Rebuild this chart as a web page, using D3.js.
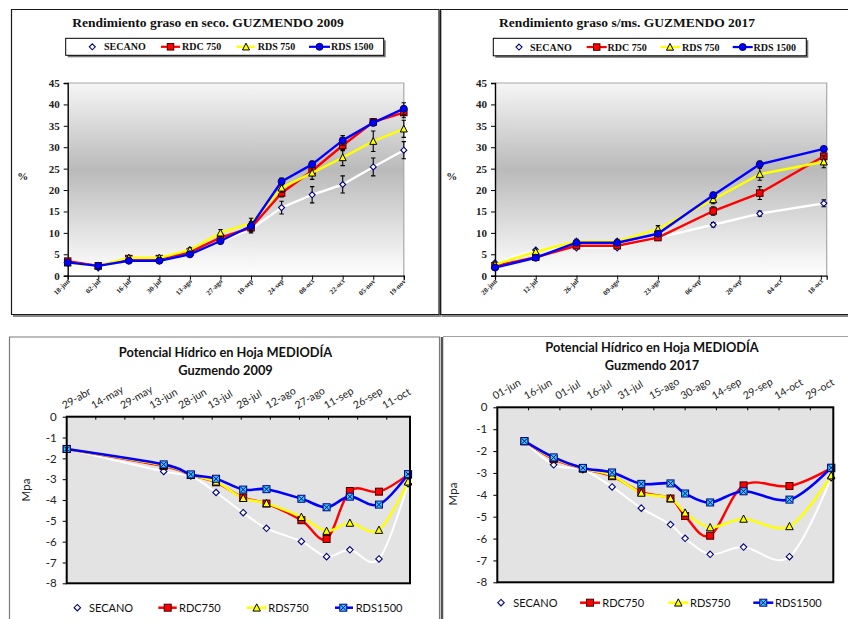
<!DOCTYPE html>
<html><head><meta charset="utf-8">
<script src="https://cdn.jsdelivr.net/npm/d3@7"></script>
<style>body{margin:0;background:#fff;} svg{display:block;}</style>
</head><body>
<svg id="c" width="848" height="619"></svg>
<script>
// ---------- DATA ----------
// Rendimiento graso en seco. GUZMENDO 2009
const gz09Dates = ["2009-06-18","2009-07-02","2009-07-16","2009-07-30","2009-08-13","2009-08-27","2009-09-10","2009-09-24","2009-10-08","2009-10-22","2009-11-05","2009-11-19"];
const gz09TickLabels = ["18-jun","02-jul","16-jul","30-jul","13-ago","27-ago","10-sep","24-sep","08-oct","22-oct","05-nov","19-nov"];
const gz09Secano  = [3.0,1.8,3.5,3.5,5.0,8.0,10.9,15.9,18.9,21.3,25.4,29.3];
const gz09Rdc750  = [3.4,2.3,4.0,4.0,5.5,8.9,11.2,19.3,24.5,30.4,35.9,38.1];
const gz09Rds750  = [3.0,2.3,4.2,4.2,6.0,10.0,12.3,20.5,24.0,27.6,31.4,34.3];
const gz09Rds1500 = [3.1,2.3,3.5,3.5,5.0,8.1,11.6,22.0,26.0,31.6,35.7,39.0];
const gz09SecanoErr  = [0.3,0.3,0.3,0.3,0.3,0.5,0.9,1.5,1.9,2.0,2.1,2.0];
const gz09Rdc750Err  = [0.3,0.3,0.5,0.5,0.4,0.8,0.8,0.9,1.0,1.2,0.8,1.2];
const gz09Rds750Err  = [0.3,0.3,0.4,0.4,0.5,0.8,1.1,1.0,1.5,1.9,2.4,2.0];
const gz09Rds1500Err = [0.3,0.3,0.3,0.3,0.3,0.5,1.0,0.8,0.8,1.1,0.7,1.4];

// Rendimiento graso s/ms. GUZMENDO 2017
const gz17Dates = ["2017-06-28","2017-07-12","2017-07-26","2017-08-09","2017-08-23","2017-09-11","2017-09-27","2017-10-19"];
const gz17TickDates = ["2017-06-28","2017-07-12","2017-07-26","2017-08-09","2017-08-23","2017-09-06","2017-09-20","2017-10-04","2017-10-18"];
const gz17TickLabels = ["28-jun","12-jul","26-jul","09-ago","23-ago","06-sep","20-sep","04-oct","18-oct"];
const gz17Secano  = [3.0,6.0,6.5,6.5,8.9,11.9,14.5,16.9];
const gz17Rdc750  = [2.3,4.3,7.0,7.0,8.9,15.1,19.3,27.9];
const gz17Rds750  = [2.6,5.6,8.0,8.0,10.9,17.8,23.7,26.6];
const gz17Rds1500 = [1.9,4.2,7.7,7.7,9.8,18.8,26.0,29.6];
const gz17SecanoErr  = [0.3,0.3,0.3,0.3,0.3,0.5,0.6,0.8];
const gz17Rdc750Err  = [0.3,0.3,0.4,0.4,0.4,1.0,1.5,1.0];
const gz17Rds750Err  = [0.3,0.4,0.5,0.5,0.8,1.0,1.4,1.4];
const gz17Rds1500Err = [0.3,0.4,0.5,0.5,0.5,0.7,0.8,0.5];

// Potencial Hídrico en Hoja MEDIODÍA (same series, two date sets)
const ph09Dates = ["2009-04-29","2009-06-18","2009-07-02","2009-07-15","2009-07-29","2009-08-10","2009-08-28","2009-09-10","2009-09-22","2009-10-07","2009-10-22"];
const ph09TickLabels = ["29-abr","14-may","29-may","13-jun","28-jun","13-jul","28-jul","12-ago","27-ago","11-sep","26-sep","11-oct"];
const ph17Dates = ["2017-06-14","2017-06-28","2017-07-12","2017-07-26","2017-08-09","2017-08-23","2017-08-30","2017-09-11","2017-09-27","2017-10-19","2017-11-08"];
const ph17TickLabels = ["01-jun","16-jun","01-jul","16-jul","31-jul","15-ago","30-ago","14-sep","29-sep","14-oct","29-oct"];
const phSecano  = [-1.55,-2.63,-2.85,-3.64,-4.61,-5.36,-5.99,-6.72,-6.39,-6.83,-3.22];
const phRdc750  = [-1.55,-2.37,-2.80,-3.15,-3.88,-4.17,-4.97,-5.87,-3.57,-3.60,-2.78];
const phRds750  = [-1.55,-2.33,-2.80,-3.12,-3.91,-4.16,-4.82,-5.49,-5.10,-5.44,-3.12];
const phRds1500 = [-1.55,-2.29,-2.77,-2.98,-3.50,-3.48,-3.94,-4.35,-3.84,-4.22,-2.76];

const topYTicks = [0,5,10,15,20,25,30,35,40,45];
const phYTicks = [0,-1,-2,-3,-4,-5,-6,-7,-8];

// ---------- DRAW ----------
const parse = d3.timeParse("%Y-%m-%d");
const svg = d3.select("#c");
const defs = svg.append("defs");
const grad = defs.append("linearGradient").attr("id","tg").attr("x1",0).attr("y1",0).attr("x2",0).attr("y2",1);
grad.append("stop").attr("offset","0%").attr("stop-color","#f6f6f6");
grad.append("stop").attr("offset","45%").attr("stop-color","#bababa");
grad.append("stop").attr("offset","100%").attr("stop-color","#ffffff");

const SERIF = "'Liberation Serif','DejaVu Serif',serif";
const SANS = "Lato,'Liberation Sans',sans-serif";

function marker(g, type, cx, cy, s) {
  if (type === "diamond") {
    const r = s*0.5;
    g.append("path").attr("d",`M${cx},${cy-r}L${cx+r},${cy}L${cx},${cy+r}L${cx-r},${cy}Z`)
      .attr("fill","#fff").attr("stroke","#000080").attr("stroke-width",1.1);
  } else if (type === "square") {
    g.append("rect").attr("x",cx-s/2).attr("y",cy-s/2).attr("width",s).attr("height",s)
      .attr("fill","#ff0000").attr("stroke","#400000").attr("stroke-width",1);
  } else if (type === "triangle") {
    const h = s*0.9;
    g.append("path").attr("d",`M${cx},${cy-h/2-0.5}L${cx+s/2},${cy+h/2}L${cx-s/2},${cy+h/2}Z`)
      .attr("fill","#ffff00").attr("stroke","#000").attr("stroke-width",1);
  } else if (type === "circle") {
    g.append("circle").attr("cx",cx).attr("cy",cy).attr("r",s/2)
      .attr("fill","#0000ff").attr("stroke","#000060").attr("stroke-width",1);
  } else if (type === "xsquare") {
    g.append("rect").attr("x",cx-s/2).attr("y",cy-s/2).attr("width",s).attr("height",s)
      .attr("fill","#33ccff").attr("stroke","#000080").attr("stroke-width",1);
    const r = s/2-1;
    g.append("path").attr("d",`M${cx-r},${cy-r}L${cx+r},${cy+r}M${cx+r},${cy-r}L${cx-r},${cy+r}`)
      .attr("stroke","#000080").attr("stroke-width",1);
  }
}

function drawTop(cfg) {
  const g = svg.append("g");
  const f = cfg.frame;
  g.append("path").attr("d",f.shadow).attr("fill","none").attr("stroke","#8a8a8a").attr("stroke-width",2);
  g.append("path").attr("d",f.path).attr("fill","none").attr("stroke","#1a1a1a").attr("stroke-width",1.2);
  g.append("text").attr("x",cfg.titleX).attr("y",cfg.titleY).attr("text-anchor","middle")
    .attr("font-family",SERIF).attr("font-weight","bold").attr("font-size",13.5).attr("fill","#111").text(cfg.title);
  const L = cfg.legend;
  g.append("rect").attr("x",L.x+2).attr("y",L.y+2).attr("width",L.w).attr("height",L.h).attr("fill","#777");
  g.append("rect").attr("x",L.x).attr("y",L.y).attr("width",L.w).attr("height",L.h).attr("fill","#fff").attr("stroke","#000").attr("stroke-width",1);
  const ly = L.y + L.h/2;
  cfg.series.forEach((s,i) => {
    const it = L.items[i];
    if (it.l) g.append("line").attr("x1",it.l[0]).attr("x2",it.l[1]).attr("y1",ly).attr("y2",ly).attr("stroke",s.color).attr("stroke-width",2.2);
    marker(g, s.marker, it.m, ly, s.size);
    g.append("text").attr("x",it.t).attr("y",ly+3.6).attr("font-family",SERIF).attr("font-weight","bold")
      .attr("font-size",10).attr("fill","#111").text(s.name);
  });
  const p = cfg.plot;
  const x = d3.scaleTime().domain(cfg.domain.map(parse)).range([p.x0, p.x1]);
  const y = d3.scaleLinear().domain([0,45]).range([p.y1, p.y0]);
  g.append("rect").attr("x",p.x0).attr("y",p.y0).attr("width",p.x1-p.x0).attr("height",p.y1-p.y0).attr("fill","url(#tg)");
  g.append("path").attr("d",`M${p.x0},${p.y0}H${p.x1}V${p.y1}`).attr("fill","none").attr("stroke","#a8a8a8").attr("stroke-width",1.2);
  const ya = g.append("g").attr("transform",`translate(${p.x0},0)`)
    .call(d3.axisLeft(y).tickValues(topYTicks).tickSize(4).tickPadding(4).tickFormat(d3.format("d")));
  ya.select(".domain").attr("stroke","#000").attr("stroke-width",1.4);
  ya.selectAll("text").attr("font-family",SERIF).attr("font-weight","bold").attr("font-size",11).attr("fill","#222");
  const tickDates = cfg.ticks.map(parse);
  const xa = g.append("g").attr("transform",`translate(0,${p.y1})`)
    .call(d3.axisBottom(x).tickValues(tickDates).tickSize(4).tickFormat(""));
  xa.select(".domain").attr("stroke","#000").attr("stroke-width",1.2);
  tickDates.forEach((d,i) => {
    g.append("text").attr("transform",`translate(${x(d)+2.5},${p.y1+6}) rotate(-45)`).attr("text-anchor","end")
      .attr("font-family",SERIF).attr("font-weight","bold").attr("font-size",7).attr("fill","#222").text(cfg.tickLabels[i]);
  });
  g.append("text").attr("x",cfg.pct[0]).attr("y",cfg.pct[1]).attr("text-anchor","middle")
    .attr("font-family",SERIF).attr("font-weight","bold").attr("font-size",11).attr("fill","#222").text("%");
  const dates = cfg.dates.map(parse);
  const line = d3.line().x(d=>x(d[0])).y(d=>y(d[1]));
  cfg.series.forEach(s => {
    const pts = dates.map((d,i)=>[d, s.vals[i]]);
    g.append("path").attr("d",line(pts)).attr("fill","none").attr("stroke",s.color).attr("stroke-width",2.4).attr("stroke-linejoin","round");
    pts.forEach((pt,i) => {
      const e = s.err[i], cx = x(pt[0]);
      if (e > 0.45) {
        g.append("path").attr("d",`M${cx},${y(pt[1]-e)}V${y(pt[1]+e)}M${cx-2.2},${y(pt[1]-e)}H${cx+2.2}M${cx-2.2},${y(pt[1]+e)}H${cx+2.2}`)
          .attr("stroke","#000").attr("stroke-width",1.1).attr("fill","none");
      }
    });
    pts.forEach(pt => marker(g, s.marker, x(pt[0]), y(pt[1]), s.size));
  });
}

function drawPH(cfg) {
  const g = svg.append("g");
  g.append("path").attr("d",cfg.frame).attr("fill","none").attr("stroke",cfg.frameColor).attr("stroke-width",cfg.frameW);
  if (cfg.frame2) g.append("path").attr("d",cfg.frame2).attr("fill","none").attr("stroke","#a0a0a0").attr("stroke-width",1);
  cfg.titles.forEach((t,i) => g.append("text").attr("x",cfg.titleX).attr("y",cfg.titleY[i]).attr("text-anchor","middle")
    .attr("font-family",SANS).attr("font-weight","bold").attr("font-size",12.8).attr("fill","#111").text(t));
  const p = cfg.plot;
  const x = d3.scaleTime().domain(cfg.domain.map(parse)).range([p.x0, p.x1]);
  const y = d3.scaleLinear().domain([-8,0]).range([p.y1, p.y0]);
  g.append("rect").attr("x",p.x0).attr("y",p.y0).attr("width",p.x1-p.x0).attr("height",p.y1-p.y0)
    .attr("fill","#e3e3e3");
  const t0 = parse(cfg.domain[0]);
  const tickDates = cfg.tickLabels.map((l,i)=>d3.timeDay.offset(t0, 15*i));
  tickDates.forEach((d,i) => {
    const tx = x(d);
    if (i>0) g.append("line").attr("x1",tx).attr("x2",tx).attr("y1",p.y0).attr("y2",p.y0+3).attr("stroke","#000").attr("stroke-width",1);
    g.append("text").attr("transform",`translate(${tx-2},${p.y0-7.5}) rotate(-30)`).attr("text-anchor","start")
      .attr("font-family",SANS).attr("font-size",10.5).attr("fill","#222").text(cfg.tickLabels[i]);
  });
  const ya = g.append("g").attr("transform",`translate(${p.x0},0)`)
    .call(d3.axisLeft(y).tickValues(phYTicks).tickSize(4).tickPadding(6).tickFormat(d=>d===0?"0":"-"+(-d)));
  ya.select(".domain").remove();
  ya.selectAll("text").attr("font-family",SANS).attr("font-size",11.5).attr("fill","#222");
  g.append("text").attr("transform",`translate(${cfg.mpa[0]},${cfg.mpa[1]}) rotate(-90)`).attr("text-anchor","middle")
    .attr("font-family",SANS).attr("font-size",11.5).attr("fill","#222").text("Mpa");
  const dates = cfg.dates.map(parse);
  const line = d3.line().x(d=>x(d[0])).y(d=>y(d[1])).curve(d3.curveCardinal.tension(0));
  cfg.series.forEach(s => {
    const pts = dates.map((d,i)=>[d, s.vals[i]]);
    g.append("path").attr("d",line(pts)).attr("fill","none").attr("stroke",s.color).attr("stroke-width",s.w);
  });
  cfg.series.forEach(s => {
    dates.forEach((d,i) => marker(g, s.marker, x(d), y(s.vals[i]), s.size));
  });
  g.append("rect").attr("x",p.x0).attr("y",p.y0).attr("width",p.x1-p.x0).attr("height",p.y1-p.y0)
    .attr("fill","none").attr("stroke","#000").attr("stroke-width",2);
  const ly = cfg.legendY;
  cfg.series.forEach((s,i) => {
    const it = cfg.legend[i];
    if (it.l) g.append("line").attr("x1",it.l[0]).attr("x2",it.l[1]).attr("y1",ly).attr("y2",ly).attr("stroke",s.color).attr("stroke-width",2.5);
    marker(g, s.marker, it.m, ly, s.size);
    g.append("text").attr("x",it.t).attr("y",ly+4).attr("font-family",SANS).attr("font-size",11).attr("fill","#111").text(s.name);
  });
}

const topSeries = (a,b,c,d,ea,eb,ec,ed) => [
  {name:"SECANO", vals:a, err:ea, color:"#ffffff", marker:"diamond", size:6},
  {name:"RDC 750", vals:b, err:eb, color:"#ff0000", marker:"square", size:6.5},
  {name:"RDS 750", vals:c, err:ec, color:"#ffff00", marker:"triangle", size:7},
  {name:"RDS 1500", vals:d, err:ed, color:"#0000ff", marker:"circle", size:7}
];

drawTop({
  frame:{path:"M11.5,9.5H439V314.5H11.5Z", shadow:"M13,316H440.5V11"},
  title:"Rendimiento graso en seco. GUZMENDO 2009", titleX:208, titleY:27,
  legend:{x:65.7,y:38.3,w:318,h:17, items:[{m:92.3,t:104},{l:[161,180],m:170.5,t:182},{l:[236.7,255],m:246,t:257.7},{l:[309,330],m:319.5,t:331}]},
  plot:{x0:67.7,x1:403.8,y0:83,y1:275.7},
  domain:["2009-06-18","2009-11-19"], dates:gz09Dates, ticks:gz09Dates, tickLabels:gz09TickLabels, pct:[22.7,180],
  series: topSeries(gz09Secano,gz09Rdc750,gz09Rds750,gz09Rds1500,gz09SecanoErr,gz09Rdc750Err,gz09Rds750Err,gz09Rds1500Err)
});
drawTop({
  frame:{path:"M848,9.5H440.5V314.5H848", shadow:"M442,316H848"},
  title:"Rendimiento graso s/ms. GUZMENDO 2017", titleX:627, titleY:27,
  legend:{x:493.3,y:38.3,w:313,h:17.5, items:[{m:519,t:530},{l:[586.7,606.7],m:596.7,t:607.5},{l:[660.7,680],m:670,t:682},{l:[732.7,752.7],m:742.7,t:753.5}]},
  plot:{x0:495,x1:826.7,y0:83,y1:275.7},
  domain:["2017-06-28","2017-10-20"], dates:gz17Dates, ticks:gz17TickDates, tickLabels:gz17TickLabels, pct:[451.7,180],
  series: topSeries(gz17Secano,gz17Rdc750,gz17Rds750,gz17Rds1500,gz17SecanoErr,gz17Rdc750Err,gz17Rds750Err,gz17Rds1500Err)
});

const phSeries = [
  {name:"SECANO", vals:phSecano, color:"#ffffff", w:2, marker:"diamond", size:6.5},
  {name:"RDC750", vals:phRdc750, color:"#ff0000", w:2.4, marker:"square", size:7},
  {name:"RDS750", vals:phRds750, color:"#ffff00", w:2.4, marker:"triangle", size:7.5},
  {name:"RDS1500", vals:phRds1500, color:"#0000ff", w:2.6, marker:"xsquare", size:7}
];
drawPH({
  frame:"M9.5,619V337H439.5V619", frameColor:"#7a7a7a", frameW:1.2,
  titles:["Potencial Hídrico en Hoja MEDIODÍA","Guzmendo 2009"], titleX:225.5, titleY:[357,375],
  plot:{x0:66.7,x1:410,y0:416.7,y1:583.3},
  domain:["2009-04-29","2009-10-23"], dates:ph09Dates, tickLabels:ph09TickLabels, mpa:[30,490],
  series:phSeries, legendY:607.7,
  legend:[{m:77.3,t:89},{l:[158.3,176.7],m:167.7,t:179},{l:[246.7,266.7],m:256.7,t:268.3},{l:[335,353],m:343.3,t:355.7}]
});
drawPH({
  frame:"M442,619V337", frameColor:"#555", frameW:2.5, frame2:"M443,336.5H848",
  titles:["Potencial Hídrico en Hoja MEDIODÍA","Guzmendo 2017"], titleX:652, titleY:[352,370],
  plot:{x0:497.3,x1:833.3,y0:407.3,y1:582.3},
  domain:["2017-06-01","2017-11-09"], dates:ph17Dates, tickLabels:ph17TickLabels, mpa:[457,494],
  series:phSeries, legendY:602.7,
  legend:[{m:501,t:513.3},{l:[580,600],m:590,t:602.3},{l:[668.3,688.3],m:678.3,t:690},{l:[753.3,773.3],m:763.3,t:775}]
});
</script>
</body></html>
